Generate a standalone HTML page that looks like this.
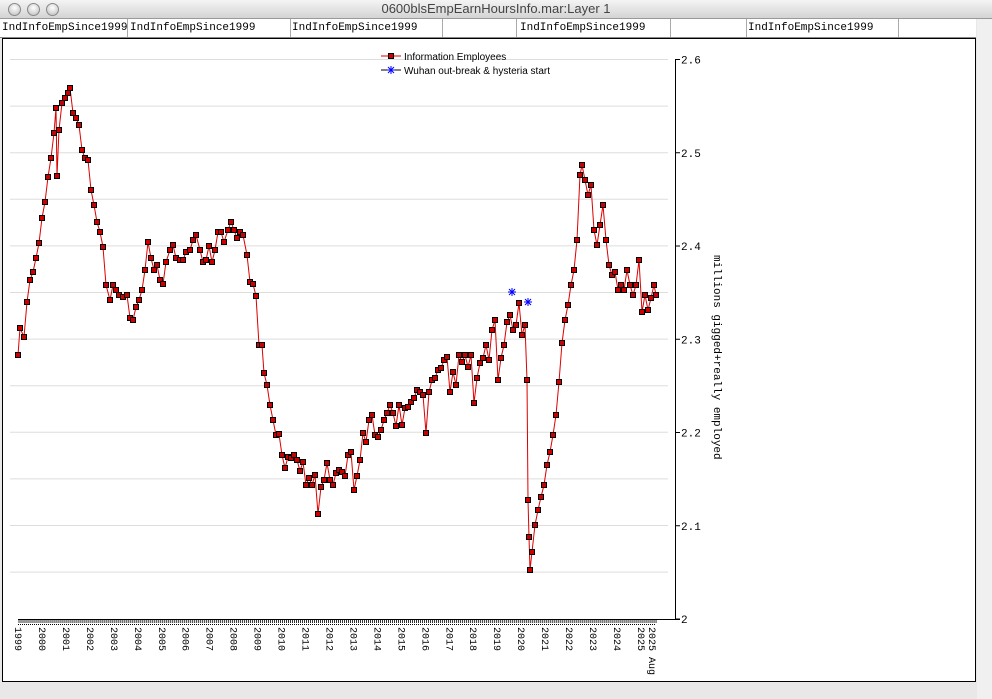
<!DOCTYPE html>
<html><head><meta charset="utf-8">
<style>
body{margin:0;width:992px;height:699px;overflow:hidden;background:#e8e8e8;font-family:"Liberation Sans",sans-serif;}
#title{position:absolute;left:0;top:0;width:992px;height:18px;background:linear-gradient(#f4f4f4,#d4d4d4);border-bottom:1px solid #999;text-align:center;font-size:13px;line-height:18px;color:#444;}
.btn{position:absolute;top:3px;width:11px;height:11px;border-radius:50%;background:radial-gradient(circle at 50% 35%,#fff,#bbb);border:1px solid #888;}
#bar{position:absolute;left:0;top:19px;width:976px;height:18px;background:#fff;border-bottom:1px solid #888;}
.cell{position:absolute;top:0;height:18px;border-right:1px solid #aaa;font-family:"Liberation Mono",monospace;font-size:11px;line-height:18px;padding-left:2px;white-space:nowrap;}
#panel{position:absolute;left:2px;top:38px;width:972px;height:642px;background:#fff;border:1px solid #000;}
#side{position:absolute;left:977px;top:19px;width:15px;height:680px;background:#f0f0f0;}
svg{position:absolute;left:0;top:0;}
</style></head><body>
<div id="title"><span class="btn" style="left:8px"></span><span class="btn" style="left:27px"></span><span class="btn" style="left:46px"></span>0600blsEmpEarnHoursInfo.mar:Layer 1</div>
<div id="bar">
<div class="cell" style="left:0;width:125px">IndInfoEmpSince1999</div>
<div class="cell" style="left:128px;width:160px">IndInfoEmpSince1999</div>
<div class="cell" style="left:290px;width:150px">IndInfoEmpSince1999</div>
<div class="cell" style="left:442px;width:72px"></div>
<div class="cell" style="left:518px;width:150px">IndInfoEmpSince1999</div>
<div class="cell" style="left:670px;width:74px"></div>
<div class="cell" style="left:746px;width:150px">IndInfoEmpSince1999</div>
</div>
<div id="side"></div>
<div id="panel"></div>
<svg id="s" width="992" height="699" xmlns="http://www.w3.org/2000/svg"></svg>
<script>
var s=document.getElementById('s'),h='';
// grid
for(var i=0;i<12;i++){var y=59.5+i*46.6;h+='<line x1="10" x2="668" y1="'+y+'" y2="'+y+'" stroke="#ddd"/>';}
// y axis
h+='<line x1="675.5" y1="59" x2="675.5" y2="619" stroke="#000"/>';
var lab=['2.6','2.5','2.4','2.3','2.2','2.1','2'];
for(i=0;i<7;i++){var y=59.5+i*93.25;h+='<line x1="675" x2="680" y1="'+y+'" y2="'+y+'" stroke="#000"/><text x="681" y="'+(y+4)+'" font-size="11" font-family="Liberation Mono,monospace">'+lab[i]+'</text>';}
h+='<line x1="18" x2="680" y1="619.5" y2="619.5" stroke="#000"/>';
h+='<text transform="translate(714,255) rotate(90)" font-size="11" font-family="Liberation Mono,monospace">millions gigged+really employed</text>';
// x ticks
for(var m=0;m<=319;m++){var x=19+m*1.997;h+='<line x1="'+x+'" x2="'+x+'" y1="619" y2="623" stroke="#000" stroke-width="0.8"/>';}
h+='<line x1="18" x2="656" y1="624.5" y2="624.5" stroke="#000" stroke-dasharray="1,1"/>';
for(var yr=1999;yr<=2025;yr++){var x=19+(yr-1999)*23.96;h+='<text transform="translate('+(x-4)+',627) rotate(90)" font-size="10" font-family="Liberation Mono,monospace">'+yr+'</text>';}
h+='<text transform="translate(649,627) rotate(90)" font-size="10" font-family="Liberation Mono,monospace">2025 Aug</text>';
// data
var k=[[18,355],[20,328],[24,337],[27,302],[30,280],[33,272],[36,258],[39,243],[42,218],[45,202],[48,177],[51,158],[54,133],[56,108],[57,176],[59,130],[62,103],[65,98],[68,93],[70,88],[73,113],[76,118],[79,125],[82,150],[85,158],[88,160],[91,190],[94,205],[97,222],[100,232],[103,247],[106,285],[110,300],[113,285],[116,290],[119,295],[123,297],[127,295],[130,318],[133,320],[136,307],[139,300],[142,290],[145,270],[148,242],[151,258],[154,270],[157,265],[160,280],[163,284],[166,262],[170,250],[173,245],[176,258],[180,260],[183,260],[186,252],[190,250],[193,240],[196,235],[200,250],[203,262],[206,260],[209,246],[212,262],[215,250],[218,232],[221,232],[224,242],[228,230],[231,222],[234,230],[237,238],[240,232],[243,235],[247,255],[250,282],[253,284],[256,296],[259,345],[262,345],[264,373],[267,385],[270,405],[273,420],[276,435],[279,434],[282,455],[285,468],[288,457],[291,458],[294,455],[297,460],[300,471],[303,462],[306,485],[309,478],[312,485],[315,475],[318,514],[321,487],[324,480],[327,463],[330,480],[333,485],[336,473],[339,470],[342,472],[345,476],[348,455],[351,452],[354,490],[357,476],[360,460],[363,433],[366,442],[369,420],[372,415],[375,435],[378,437],[381,430],[384,420],[387,413],[390,405],[393,413],[396,426],[399,405],[402,425],[405,408],[408,407],[411,402],[414,398],[417,390],[420,392],[423,395],[426,433],[429,392],[432,380],[435,378],[438,370],[441,368],[444,360],[447,357],[450,392],[453,372],[456,385],[459,355],[462,362],[465,355],[468,367],[471,355],[474,403],[477,378],[480,363],[483,358],[486,345],[489,360],[492,330],[495,320],[498,380],[501,358],[504,345],[507,322],[510,315],[513,330],[516,325],[519,303],[522,335],[525,325],[527,380],[528,500],[529,537],[530,570],[532,552],[535,525],[538,510],[541,497],[544,485],[547,465],[550,452],[553,435],[556,415],[559,382],[562,343],[565,320],[568,305],[571,285],[574,270],[577,240],[580,175],[582,165],[585,180],[588,195],[591,185],[594,230],[597,245],[600,225],[603,205],[606,240],[609,265],[612,275],[615,272],[618,290],[621,285],[624,290],[627,270],[630,285],[633,295],[636,285],[639,260],[642,312],[645,295],[648,310],[651,298],[654,285],[656,295]];
var pts=k.map(function(p){return p[0]+','+p[1]}).join(' ');
h+='<polyline points="'+pts+'" fill="none" stroke="#d00" stroke-width="1"/>';
k.forEach(function(p){h+='<rect x="'+(p[0]-2.5)+'" y="'+(p[1]-2.5)+'" width="5" height="5" fill="#c00" stroke="#000" stroke-width="1"/>';});
function star(x,y){return '<g stroke="#00f" stroke-width="1"><line x1="'+(x-4)+'" y1="'+y+'" x2="'+(x+4)+'" y2="'+y+'"/><line x1="'+x+'" y1="'+(y-4)+'" x2="'+x+'" y2="'+(y+4)+'"/><line x1="'+(x-3)+'" y1="'+(y-3)+'" x2="'+(x+3)+'" y2="'+(y+3)+'"/><line x1="'+(x-3)+'" y1="'+(y+3)+'" x2="'+(x+3)+'" y2="'+(y-3)+'"/></g>';}
h+=star(512,292)+star(528,302);
// legend
h+='<line x1="381" x2="401" y1="56" y2="56" stroke="#d00"/><rect x="388.5" y="53.5" width="5" height="5" fill="#c00" stroke="#000"/>';
h+='<text x="404" y="60" font-size="10">Information Employees</text>';
h+='<line x1="381" x2="401" y1="70" y2="70" stroke="#000"/>'+star(391,70);
h+='<text x="404" y="74" font-size="10">Wuhan out-break &amp; hysteria start</text>';
s.innerHTML=h;
</script>
</body></html>
